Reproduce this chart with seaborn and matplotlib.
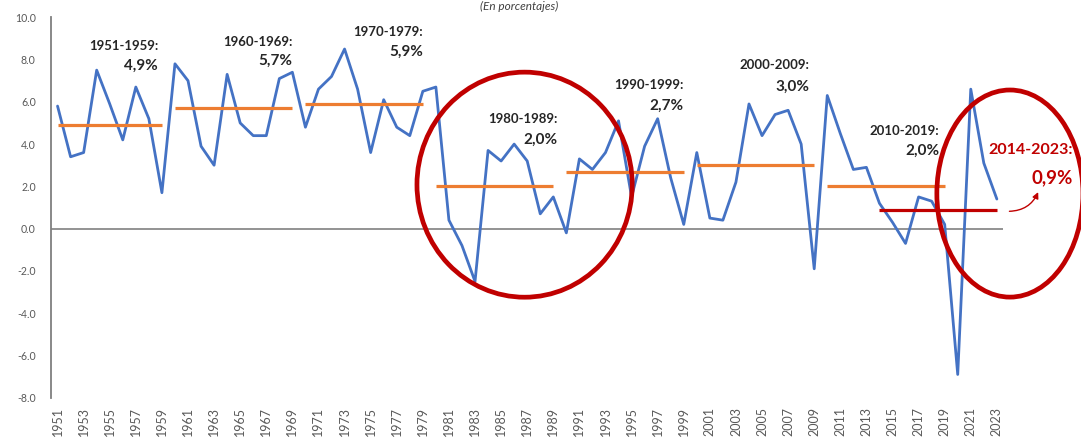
"""
Crecimiento anual del PBI 1951-2023 con promedios por decenio.
Serie anual (azul), promedios por periodo (naranja / rojo) y círculos de énfasis.
"""
import numpy as np
import pandas as pd
import matplotlib
matplotlib.use("Agg")
import matplotlib.pyplot as plt
from matplotlib.patches import Ellipse
import seaborn as sns

# --- datos ---
years = list(range(1951, 2024))
growth = [5.8, 3.4, 3.6, 7.5, 5.9, 4.2, 6.7, 5.2, 1.7,            # 1951-1959
          7.8, 7.0, 3.9, 3.0, 7.3, 5.0, 4.4, 4.4, 7.1, 7.4,       # 1960-1969
          4.8, 6.6, 7.2, 8.5, 6.6, 3.6, 6.1, 4.8, 4.4, 6.5,       # 1970-1979
          6.7, 0.4, -0.8, -2.5, 3.7, 3.2, 4.0, 3.2, 0.7, 1.5,     # 1980-1989
          -0.2, 3.3, 2.8, 3.6, 5.1, 1.5, 3.9, 5.2, 2.4, 0.2,      # 1990-1999
          3.6, 0.5, 0.4, 2.2, 5.9, 4.4, 5.4, 5.6, 4.0, -1.9,      # 2000-2009
          6.3, 4.5, 2.8, 2.9, 1.2, 0.3, -0.7, 1.5, 1.3, 0.2,      # 2010-2019
          -6.9, 6.6, 3.1, 1.4]                                   # 2020-2023

period_start = [1951, 1960, 1970, 1980, 1990, 2000, 2010]
period_end = [1959, 1969, 1979, 1989, 1999, 2009, 2019]
period_avg = [4.9, 5.7, 5.9, 2.0, 2.7, 3.0, 2.0]
period_name = ["1951-1959:", "1960-1969:", "1970-1979:", "1980-1989:",
               "1990-1999:", "2000-2009:", "2010-2019:"]
period_pct = ["4,9%", "5,7%", "5,9%", "2,0%", "2,7%", "3,0%", "2,0%"]

recent_start, recent_end, recent_avg = 2014, 2023, 0.9
recent_name, recent_pct = "2014-2023:", "0,9%"

yticks = [-8, -6, -4, -2, 0, 2, 4, 6, 8, 10]

# --- estilo ---
BLUE, ORANGE, RED = "#4472C4", "#ED7D31", "#C00000"
GREY_TXT = "#595959"

sns.set_theme(style="white")
plt.rcParams["font.family"] = ["Lato", "DejaVu Sans"]

df = pd.DataFrame({"year": years, "growth": growth})

fig = plt.figure(figsize=(10.81, 4.38), dpi=100)
ax = fig.add_axes([0.0472, 0.092, 0.881, 0.8685])

sns.lineplot(data=df, x="year", y="growth", ax=ax, color=BLUE, lw=2.0)

ax.hlines(period_avg, period_start, period_end, color=ORANGE, lw=2.3, zorder=3)
ax.hlines(recent_avg, recent_start, recent_end, color=RED, lw=2.3, zorder=3)
ax.axhline(0, color="#808080", lw=1.2, zorder=1)

# etiquetas de cada periodo: alineadas a la derecha con el último año
label_y = [(8.66, 7.71), (8.85, 7.95), (9.32, 8.35), (5.21, 4.2),
           (6.78, 5.82), (7.76, 6.72), (4.62, 3.7)]
label_dx = [-0.3, 0.0, 0.0, 0.3, 0.0, -0.4, -0.4]
for i, (yy, dx) in enumerate(zip(label_y, label_dx)):
    ax.text(period_end[i] + dx, yy[0], period_name[i], ha="right", va="center",
            fontsize=9.5, fontweight="bold", color="#262626")
    ax.text(period_end[i] + dx, yy[1], period_pct[i], ha="right", va="center",
            fontsize=11, fontweight="bold", color="#262626")

ax.text(2028.8, 3.74, recent_name, ha="right", va="center", fontsize=11.5,
        fontweight="bold", color=RED, clip_on=False)
ax.text(2028.8, 2.42, recent_pct, ha="right", va="center", fontsize=13.5,
        fontweight="bold", color=RED, clip_on=False)

ax.annotate("", xy=(2026.25, 1.85), xytext=(2023.75, 0.82),
            arrowprops=dict(arrowstyle="-|>", color=RED, lw=1.0,
                            mutation_scale=9,
                            connectionstyle="arc3,rad=0.35"),
            annotation_clip=False)

# círculos de énfasis
ax.add_patch(Ellipse((1986.8, 2.08), 16.5, 10.65, fill=False, ec=RED,
                     lw=3.4, zorder=4, clip_on=False))
ax.add_patch(Ellipse((2024.0, 1.66), 11.2, 9.8, fill=False, ec=RED,
                     lw=3.4, zorder=4, clip_on=False))

# ejes
ax.set_xlim(1950.5, 2023.5)
ax.set_ylim(-8, 10)
ax.set_yticks(yticks)
ax.set_yticklabels([f"{v:.1f}" for v in yticks])
ax.set_xticks(years[::2])
ax.set_xticklabels([str(y) for y in years[::2]], rotation=90)
ax.tick_params(axis="y", labelsize=7.6, labelcolor=GREY_TXT, length=0, pad=11)
ax.tick_params(axis="x", labelsize=9, labelcolor=GREY_TXT, length=0, pad=7)
ax.set_xlabel("")
ax.set_ylabel("")
for s in ["top", "right", "bottom"]:
    ax.spines[s].set_visible(False)
ax.spines["left"].set_color("#7f7f7f")
ax.spines["left"].set_linewidth(1.3)

fig.text(0.48, 0.985, "(En porcentajes)", ha="center", va="center",
         fontsize=8.5, style="italic", color="#404040")

fig.savefig("out.png", dpi=100)
